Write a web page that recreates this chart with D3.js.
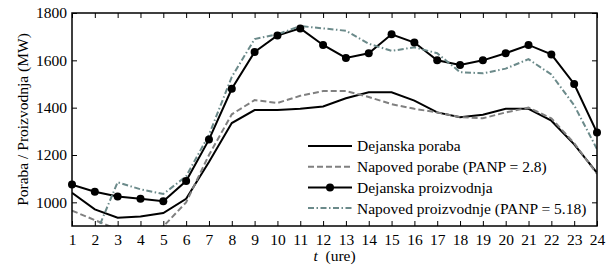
<!DOCTYPE html>
<html>
<head>
<meta charset="utf-8">
<script src="https://cdn.jsdelivr.net/npm/d3@7"></script>
</head>
<body style="margin:0; background:#fff">
<div id="chart"></div>
<script>
const width = 611;
const height = 266;
const serif = "\"Liberation Serif\"";
const fs = "15.5px";

// ure
const hours = d3.range(1, 25);

// podatki (MW)
const dejanskaPoraba = [1040, 970, 935, 940, 955, 1015, 1170, 1335, 1390, 1390, 1395, 1405,
    1440, 1465, 1465, 1430, 1380, 1360, 1370, 1395, 1395, 1345, 1245, 1125];
const napovedPorabe = [965, 925, 885, 875, 898, 1000, 1200, 1372, 1432, 1420, 1450, 1470,
    1470, 1445, 1415, 1395, 1380, 1360, 1355, 1380, 1400, 1355, 1250, 1120];
const dejanskaProizvodnja = [1075, 1045, 1025, 1015, 1005, 1090, 1265, 1480, 1635, 1705, 1735, 1665,
    1610, 1630, 1710, 1675, 1600, 1580, 1600, 1630, 1665, 1625, 1500, 1295];
const napovedProizvodnje = [880, 855, 1085, 1055, 1035, 1110, 1285, 1530, 1690, 1710, 1745, 1735,
    1725, 1670, 1640, 1655, 1630, 1550, 1545, 1565, 1605, 1540, 1410, 1225];

const yTicks = [1000, 1200, 1400, 1600, 1800];

const margin = { top: 13, right: 14, bottom: 40, left: 72 };

const svg = d3.select("#chart")
    .append("svg")
    .attr("width", width)
    .attr("height", height);

const x = d3.scaleLinear()
    .domain([1, 24])
    .range([margin.left, width - margin.right]);

const y = d3.scaleLinear()
    .domain([900, 1800])
    .range([height - margin.bottom, margin.top]);

svg.append("clipPath")
    .attr("id", "clip")
    .append("rect")
    .attr("x", margin.left)
    .attr("y", margin.top)
    .attr("width", x(24) - x(1))
    .attr("height", y(900) - y(1800));

// serije
const series = [
    { name: "Dejanska poraba", values: dejanskaPoraba, color: "#000", dash: null, marker: false },
    { name: "Napoved porabe (PANP = 2.8)", values: napovedPorabe, color: "#808080", dash: "6,3", marker: false },
    { name: "Dejanska proizvodnja", values: dejanskaProizvodnja, color: "#000", dash: null, marker: true },
    { name: "Napoved proizvodnje (PANP = 5.18)", values: napovedProizvodnje, color: "#6b8a8a", dash: "6,2.5,1.5,2.5", marker: false }
];

const line = d3.line()
    .x(function (d, i) { return x(hours[i]); })
    .y(function (d) { return y(d); });

const plot = svg.append("g").attr("clip-path", "url(#clip)");

series.forEach(function (s) {
    plot.append("path")
        .datum(s.values)
        .attr("fill", "none")
        .attr("stroke", s.color)
        .attr("stroke-width", 2)
        .attr("stroke-dasharray", s.dash)
        .attr("d", line);
});

// markerji
svg.append("g")
    .selectAll("circle")
    .data(dejanskaProizvodnja)
    .enter()
    .append("circle")
    .attr("cx", function (d, i) { return x(hours[i]); })
    .attr("cy", function (d) { return y(d); })
    .attr("r", 4)
    .attr("fill", "#000");

// osi (kljukice navznoter)
const axisStyle = function (g) {
    g.select(".domain").remove();
    g.selectAll("line").attr("stroke", "#000").attr("stroke-width", 1);
    g.selectAll("text")
        .attr("fill", "#000")
        .style("font-family", serif)
        .style("font-size", fs);
};

svg.append("g")
    .attr("transform", `translate(0,${y(900)})`)
    .call(d3.axisBottom(x).tickValues(hours).tickFormat(d3.format("d")).tickSizeInner(-5).tickPadding(8))
    .call(axisStyle);

svg.append("g")
    .attr("transform", `translate(0,${y(1800)})`)
    .call(d3.axisTop(x).tickValues(hours).tickSizeInner(-5).tickFormat(""))
    .call(axisStyle);

svg.append("g")
    .attr("transform", `translate(${x(1)},0)`)
    .call(d3.axisLeft(y).tickValues(yTicks).tickFormat(d3.format("d")).tickSizeInner(-5).tickPadding(5))
    .call(axisStyle);

svg.append("g")
    .attr("transform", `translate(${x(24)},0)`)
    .call(d3.axisRight(y).tickValues(yTicks).tickSizeInner(-5).tickFormat(""))
    .call(axisStyle);

// okvir
svg.append("rect")
    .attr("x", x(1))
    .attr("y", y(1800))
    .attr("width", x(24) - x(1))
    .attr("height", y(900) - y(1800))
    .attr("fill", "none")
    .attr("stroke", "#000")
    .attr("stroke-width", 1.5);

// oznake osi
const xLabel = svg.append("text")
    .attr("x", (x(1) + x(24)) / 2)
    .attr("y", 261)
    .attr("text-anchor", "middle")
    .attr("xml:space", "preserve")
    .style("font-family", serif)
    .style("font-size", fs);
xLabel.append("tspan").style("font-style", "italic").text("t");
xLabel.append("tspan").text("  (ure)");

svg.append("text")
    .attr("transform", `translate(28,${(y(900) + y(1800)) / 2}) rotate(-90)`)
    .attr("text-anchor", "middle")
    .style("font-family", serif)
    .style("font-size", fs)
    .text("Poraba / Proizvodnja (MW)");

// legenda
const legend = svg.append("g").attr("transform", "translate(308,146)");

series.forEach(function (s, i) {
    const row = legend.append("g").attr("transform", `translate(0,${i * 20.7})`);
    row.append("line")
        .attr("x1", 0).attr("x2", 44)
        .attr("stroke", s.color)
        .attr("stroke-width", 2)
        .attr("stroke-dasharray", s.dash);
    if (s.marker) {
        row.append("circle").attr("cx", 22).attr("r", 4).attr("fill", "#000");
    }
    row.append("text")
        .attr("x", 49)
        .attr("dy", "0.35em")
        .style("font-family", serif)
        .style("font-size", fs)
        .text(s.name);
});
</script>
</body>
</html>
